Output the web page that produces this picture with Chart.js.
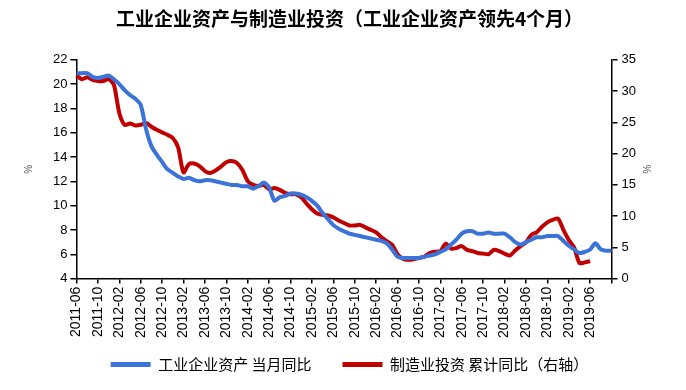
<!DOCTYPE html>
<html>
<head>
<meta charset="utf-8">
<script src="https://cdn.jsdelivr.net/npm/chart.js@4/dist/chart.umd.min.js"></script>
<style>
  html, body { margin: 0; padding: 0; background: #fff; }
  #wrap { width: 686px; height: 390px; }
</style>
</head>
<body>
<div id="wrap"><canvas id="assetChart"></canvas></div>
<script>
// monthly categories 2011-06 .. 2019-10, labelled every 4 months
const months = [];
for (let y = 2011, m = 6; y < 2019 || (y === 2019 && m <= 10); ) {
    months.push(y + '-' + String(m).padStart(2, '0'));
    m++;
    if (m > 12) { m = 1; y++; }
}

// 工业企业资产 当月同比 (left axis, already shifted 4 months ahead)
const assets = [
    20.9, 20.9, 20.9, 20.6, 20.5, 20.6, 20.7, 20.4, 20.0, 19.5,
    19.1, 18.8, 18.3, 16.3, 14.9, 14.2, 13.6, 13.0, 12.7, 12.4,
    12.2, 12.3, 12.1, 12.0, 12.1, 12.1, 12.0, 11.9, 11.8, 11.7,
    11.7, 11.6, 11.6, 11.4, 11.6, 11.9, 11.5, 10.4, 10.7, 10.8,
    11.0, 11.0, 10.9, 10.7, 10.4, 10.0, 9.4, 8.9, 8.4, 8.1,
    7.9, 7.7, 7.6, 7.5, 7.4, 7.3, 7.2, 7.1, 6.9, 6.4,
    5.8, 5.7, 5.7, 5.7, 5.7, 5.8, 5.9, 6.0, 6.2, 6.4,
    6.8, 7.2, 7.7, 7.9, 7.9, 7.7, 7.7, 7.8, 7.7, 7.7,
    7.7, 7.4, 7.0, 6.8, 7.0, 7.2, 7.4, 7.4, 7.5, 7.5,
    7.5, 7.1, 6.7, 6.4, 6.1, 6.2, 6.4, 6.9, 6.4, 6.3,
    6.3
];

// 制造业投资 累计同比 (right axis)
const invest = [
    32.5, 31.9, 32.2, 31.8, 31.6, 31.6, 31.9, 31.0, 26.5, 24.6,
    24.8, 24.5, 24.6, 24.9, 24.3, 23.8, 23.4, 23.0, 22.5, 21.0,
    17.0, 18.3, 18.4, 18.0, 17.2, 16.9, 17.3, 17.9, 18.6, 18.8,
    18.5, 17.4, 15.6, 15.0, 14.8, 15.0, 14.3, 14.5, 14.2, 13.7,
    13.5, 13.5, 13.0, 12.0, 11.1, 10.4, 10.2, 10.1, 9.8, 9.3,
    8.9, 8.5, 8.5, 8.6, 8.2, 7.8, 7.4, 6.6, 6.0, 5.4,
    3.9, 3.2, 3.0, 3.1, 3.3, 3.5, 4.1, 4.3, 4.4, 5.6,
    4.8, 4.9, 5.2, 4.6, 4.4, 4.1, 4.0, 3.9, 4.6, 4.4,
    4.0, 3.7, 4.5, 5.2, 5.8, 7.0, 7.4, 8.3, 9.0, 9.4,
    9.6, 7.8, 6.2, 5.0, 2.5, 2.6, 2.8
];

const leftTicks = [4, 6, 8, 10, 12, 14, 16, 18, 20, 22];
const rightTicks = [0, 5, 10, 15, 20, 25, 30, 35];

const BLUE = '#3b73d9';
const RED = '#c00000';
const yFont = { family: 'Liberation Sans, Arial, sans-serif', size: 13 };
const xFont = { family: 'Liberation Sans, Arial, sans-serif', size: 14 };

const ctx = document.getElementById('assetChart');
new Chart(ctx, {
    type: 'line',
    data: {
        labels: months,
        datasets: [
            {
                label: '工业企业资产 当月同比',
                data: assets,
                borderColor: BLUE,
                backgroundColor: BLUE,
                borderWidth: 4,
                pointRadius: 0,
                tension: 0.25,
                yAxisID: 'y'
            },
            {
                label: '制造业投资 累计同比（右轴）',
                data: invest,
                borderColor: RED,
                backgroundColor: RED,
                borderWidth: 4,
                pointRadius: 0,
                tension: 0.25,
                yAxisID: 'y1'
            }
        ]
    },
    options: {
        responsive: true,
        maintainAspectRatio: false,
        animation: false,
        layout: { padding: { left: 23, right: 10, top: 4, bottom: 8 } },
        plugins: {
            title: {
                display: true,
                text: '工业企业资产与制造业投资（工业企业资产领先4个月）',
                color: '#000',
                font: { family: 'Noto Sans CJK SC', size: 19, weight: 'bold' },
                padding: { top: 3, bottom: 30 }
            },
            legend: {
                position: 'bottom',
                labels: {
                    color: '#000',
                    font: { family: 'Noto Sans CJK SC', size: 15 },
                    boxWidth: 40,
                    boxHeight: 5,
                    padding: 16,
                    generateLabels: chart => Chart.defaults.plugins.legend.labels
                        .generateLabels(chart)
                        .map((l, i) => Object.assign(l, {
                            lineWidth: 0,
                            text: i === 0 ? l.text + '\u3000' : l.text
                        }))
                }
            },
            tooltip: { enabled: false }
        },
        scales: {
            x: {
                offset: false,
                border: { display: true, color: '#000', width: 1.5 },
                grid: {
                    drawOnChartArea: false,
                    drawTicks: true,
                    tickLength: 5,
                    color: c => (c.index % 4 === 0 ? '#000' : 'rgba(0,0,0,0)'),
                    lineWidth: 1.5
                },
                ticks: {
                    autoSkip: false,
                    minRotation: 90,
                    maxRotation: 90,
                    color: '#000',
                    font: xFont,
                    padding: 3,
                    callback: function (v, i) {
                        return (i % 4 === 0 && i < 100) ? this.getLabelForValue(v) : '';
                    }
                }
            },
            y: {
                position: 'left',
                min: 4,
                max: 22,
                afterBuildTicks: s => { s.ticks = leftTicks.map(v => ({ value: v })); },
                border: { display: true, color: '#000', width: 1.5 },
                grid: { drawOnChartArea: false, tickLength: 6, color: '#000', lineWidth: 1.5 },
                ticks: { color: '#000', font: yFont, padding: 3 },
                title: {
                    display: true,
                    text: '%',
                    color: '#555',
                    font: { family: 'Liberation Sans', size: 10 },
                    padding: { top: 0, bottom: 15 }
                }
            },
            y1: {
                position: 'right',
                min: 0,
                max: 35,
                afterBuildTicks: s => { s.ticks = rightTicks.map(v => ({ value: v })); },
                border: { display: true, color: '#000', width: 1.5 },
                grid: { drawOnChartArea: false, tickLength: 6, color: '#000', lineWidth: 1.5 },
                ticks: { color: '#000', font: yFont, padding: 4 },
                title: {
                    display: true,
                    text: '%',
                    color: '#555',
                    font: { family: 'Liberation Sans', size: 10 },
                    padding: { top: 24, bottom: 0 }
                }
            }
        }
    }
});
</script>
</body>
</html>
